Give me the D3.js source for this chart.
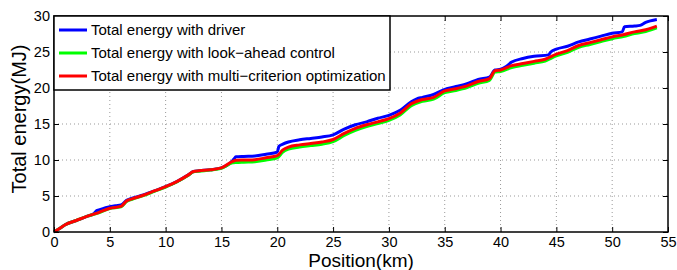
<!DOCTYPE html>
<html><head><meta charset="utf-8">
<script src="https://cdn.jsdelivr.net/npm/d3@7"></script>
<style>body{margin:0;background:#fff;} text{font-family:"Liberation Sans",Arial,sans-serif;}</style>
</head><body>
<svg id="c" width="677" height="270"></svg>
<script>
const seriesNames = ["Total energy with driver","Total energy with look\u2212ahead control","Total energy with multi\u2212criterion optimization"];
const seriesColors = ["#0000ff","#00ff00","#ff0000"];
const xTicks = [0,5,10,15,20,25,30,35,40,45,50,55];
const yTicks = [0,5,10,15,20,25,30];
const driver = [[0,0],[0.5,0.5],[1,1.0],[2,1.6],[3,2.2],[3.6,2.6],[3.8,2.95],[4,3.05],[5,3.5],[5.5,3.65],[6,3.75],[6.5,4.4],[7,4.7],[8,5.15],[9,5.7],[10,6.3],[11,7.0],[12,7.9],[12.5,8.4],[13,8.5],[14,8.65],[15,8.9],[15.8,9.6],[16.1,10.1],[16.3,10.45],[17,10.5],[18,10.55],[19,10.8],[20,11.1],[20.15,11.9],[20.5,12.2],[21,12.5],[22,12.8],[23,13.0],[24,13.2],[25,13.5],[26,14.3],[27,14.9],[28,15.3],[29,15.8],[30,16.2],[31,16.9],[32,18.1],[32.5,18.5],[33,18.7],[34,19.1],[35,19.8],[36,20.2],[37,20.6],[38,21.2],[39,21.5],[39.5,22.5],[40,22.6],[40.5,23.0],[41,23.6],[42,24.1],[43,24.4],[44.3,24.6],[44.5,25.0],[45,25.4],[46,25.8],[47,26.4],[48,26.8],[49,27.2],[50,27.6],[50.9,27.8],[51.1,28.5],[52,28.6],[52.5,28.7],[53,29.1],[54,29.5]];
const lookahead = [[0,0],[0.5,0.5],[1,1.0],[2,1.6],[3,2.2],[4,2.65],[5,3.25],[6,3.5],[6.5,4.25],[7,4.55],[8,5.05],[9,5.65],[10,6.25],[11,6.95],[12,7.85],[12.5,8.35],[13,8.45],[14,8.6],[15,8.85],[16,9.6],[16.3,9.65],[17,9.7],[18,9.75],[19,10.0],[20,10.3],[20.5,11.1],[21,11.5],[22,11.8],[23,12.0],[24,12.2],[25,12.55],[26,13.4],[27,14.1],[28,14.65],[29,15.05],[30,15.5],[31,16.25],[32,17.55],[33,18.15],[34,18.45],[35,19.35],[36,19.65],[37,20.05],[38,20.65],[39,21.05],[39.5,22.2],[40,22.3],[41,22.85],[42,23.15],[43,23.45],[44,23.75],[45,24.45],[46,24.95],[47,25.65],[48,26.05],[49,26.45],[50,26.85],[51,27.15],[52,27.55],[53,27.85],[54,28.35]];
const multi = [[0,0],[0.5,0.5],[1,1.0],[2,1.6],[3,2.2],[4,2.7],[5,3.3],[6,3.55],[6.5,4.3],[7,4.6],[8,5.1],[9,5.7],[10,6.3],[11,7.0],[12,7.9],[12.5,8.4],[13,8.5],[14,8.65],[15,8.9],[16,9.8],[16.3,9.95],[17,10.0],[18,10.05],[19,10.3],[20,10.6],[20.5,11.4],[21,11.8],[22,12.1],[23,12.3],[24,12.5],[25,12.85],[26,13.7],[27,14.4],[28,14.9],[29,15.3],[30,15.75],[31,16.5],[32,17.8],[33,18.4],[34,18.7],[35,19.6],[36,19.9],[37,20.3],[38,20.9],[39,21.3],[39.5,22.4],[40,22.5],[41,23.1],[42,23.4],[43,23.7],[44,24.0],[45,24.7],[46,25.2],[47,25.9],[48,26.3],[49,26.7],[50,27.1],[51,27.4],[52,27.8],[53,28.1],[54,28.6]];
const series = [driver, lookahead, multi];

const L=54,R=668,T=16,B=232;
const svg=d3.select("#c");
const x=d3.scaleLinear().domain([0,55]).range([L,R]);
const y=d3.scaleLinear().domain([0,30]).range([B,T]);

// grid
const g=svg.append("g");
g.selectAll(".gx").data(xTicks.slice(1,-1)).join("line")
 .attr("x1",d=>x(d)).attr("x2",d=>x(d)).attr("y1",T).attr("y2",B)
 .attr("stroke","#999").attr("stroke-width",1).attr("stroke-dasharray","1,3");
g.selectAll(".gy").data(yTicks.slice(1,-1)).join("line")
 .attr("y1",d=>y(d)).attr("y2",d=>y(d)).attr("x1",L).attr("x2",R)
 .attr("stroke","#999").attr("stroke-width",1).attr("stroke-dasharray","1,3");

// lines
const line=d3.line().x(d=>x(d[0])).y(d=>y(d[1])).curve(d3.curveMonotoneX);
series.forEach((s,i)=>{
 svg.append("path").datum(s).attr("d",line).attr("fill","none")
  .attr("stroke",seriesColors[i]).attr("stroke-width",3).attr("stroke-linejoin","round");
});

// axes
const fs=14.5;
const ax=svg.append("g").attr("transform",`translate(0,${B})`).call(d3.axisBottom(x).tickValues(xTicks).tickSize(-5).tickPadding(5).tickFormat(d3.format("d")));
const ay=svg.append("g").attr("transform",`translate(${L},0)`).call(d3.axisLeft(y).tickValues(yTicks).tickSize(-5).tickPadding(4).tickFormat(d3.format("d")));
const at=svg.append("g").attr("transform",`translate(0,${T})`).call(d3.axisTop(x).tickValues(xTicks).tickSize(-5).tickFormat(""));
const ar=svg.append("g").attr("transform",`translate(${R},0)`).call(d3.axisRight(y).tickValues(yTicks).tickSize(-5).tickFormat(""));
[ax,ay,at,ar].forEach(a=>{a.select(".domain").remove();a.selectAll("line").attr("stroke","#000");a.selectAll("text").attr("font-size",fs).attr("fill","#000").style("font-family","'Liberation Sans',Arial,sans-serif");});
svg.append("rect").attr("x",L).attr("y",T).attr("width",R-L).attr("height",B-T).attr("fill","none").attr("stroke","#000").attr("stroke-width",1.5);

// axis labels
svg.append("text").attr("x",(L+R)/2).attr("y",266.5).attr("text-anchor","middle").attr("font-size",19).text("Position(km)");
svg.append("text").attr("transform",`translate(26,119) rotate(-90)`).attr("text-anchor","middle").attr("font-size",20).text("Total energy(MJ)");

// legend
const lg=svg.append("g");
lg.append("rect").attr("x",L).attr("y",T).attr("width",336).attr("height",74).attr("fill","#fff").attr("stroke","#000").attr("stroke-width",1.5);
seriesNames.forEach((n,i)=>{
 const yy=30+i*23;
 lg.append("line").attr("x1",59).attr("x2",87).attr("y1",yy).attr("y2",yy).attr("stroke",seriesColors[i]).attr("stroke-width",3);
 lg.append("text").attr("x",91).attr("y",yy+5).attr("font-size",15).text(n);
});
</script>
</body></html>
